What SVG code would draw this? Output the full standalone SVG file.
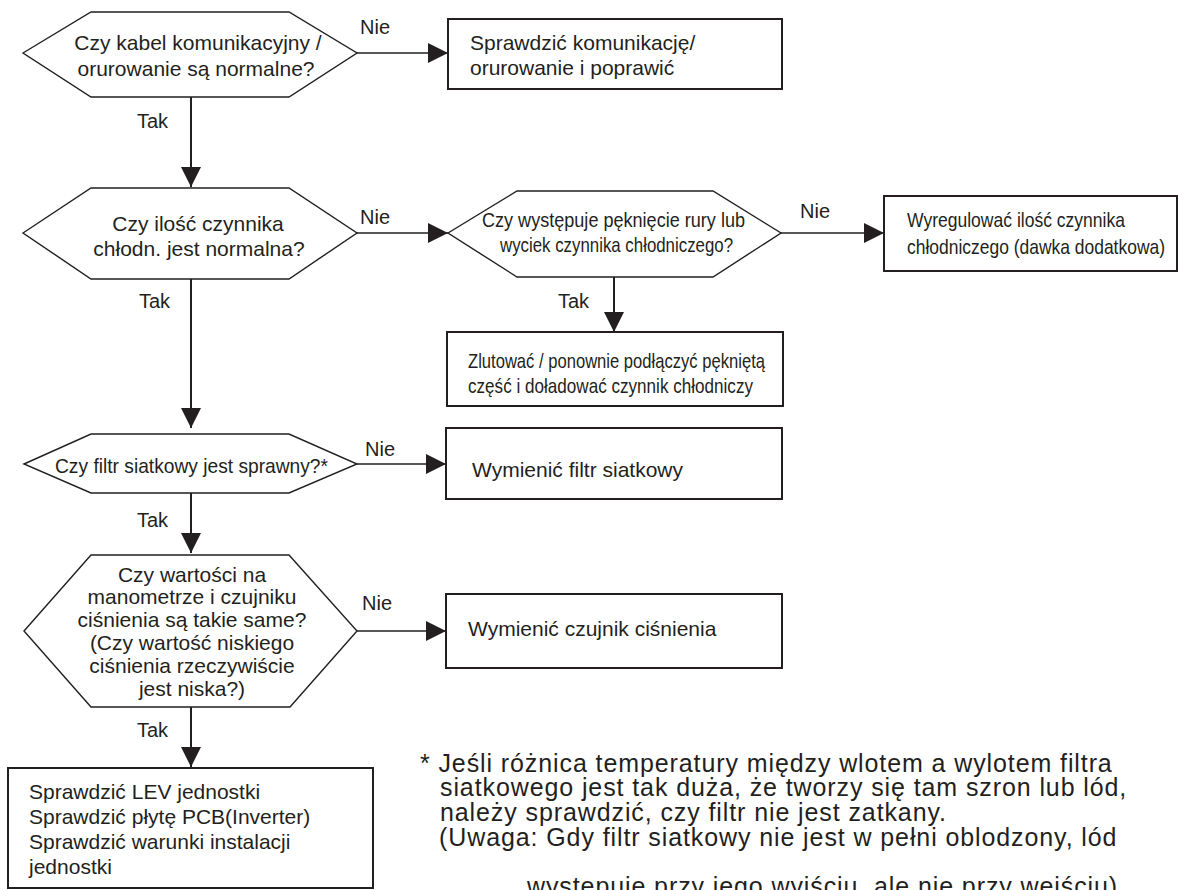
<svg xmlns="http://www.w3.org/2000/svg" width="1178" height="890" viewBox="0 0 1178 890">
  <style>
    .bg { fill: #ffffff; }
    .hex { fill: #ffffff; stroke: #231f20; stroke-width: 1.4; stroke-linejoin: miter; }
    .box { fill: #ffffff; stroke: #231f20; stroke-width: 2; }
    .wire { fill: none; stroke: #231f20; stroke-width: 1.3; }
    .wire.v { stroke-width: 2; }
    text { font-family: "Liberation Sans", Arial, sans-serif; fill: #231f20; }
    .t { font-size: 21px; }
    .mid { text-anchor: middle; }
    .lbl { font-size: 20px; }
    .note { font-size: 25px; letter-spacing: 0.9px; }
  </style>
  <defs>
    <marker id="arrow" markerUnits="userSpaceOnUse" viewBox="0 0 20 20" refX="20" refY="10" markerWidth="20" markerHeight="20" orient="auto">
      <path d="M0,0 L20,10 L0,20 Z" fill="#231f20"/>
    </marker>
  </defs>

  <rect class="bg" x="0" y="0" width="1178" height="890"/>

  <!-- connectors -->
  <g id="connectors">
    <line class="wire v" x1="191" y1="97" x2="191" y2="187" marker-end="url(#arrow)"/>
    <line class="wire" x1="357" y1="53" x2="448" y2="53" marker-end="url(#arrow)"/>
    <line class="wire v" x1="191" y1="279" x2="191" y2="428" marker-end="url(#arrow)"/>
    <line class="wire" x1="357" y1="233" x2="448" y2="233" marker-end="url(#arrow)"/>
    <line class="wire" x1="781" y1="233" x2="884" y2="233" marker-end="url(#arrow)"/>
    <line class="wire v" x1="614" y1="277" x2="614" y2="332" marker-end="url(#arrow)"/>
    <line class="wire v" x1="191" y1="493" x2="191" y2="553" marker-end="url(#arrow)"/>
    <line class="wire" x1="357" y1="464" x2="446" y2="464" marker-end="url(#arrow)"/>
    <line class="wire v" x1="191" y1="707" x2="191" y2="767" marker-end="url(#arrow)"/>
    <line class="wire" x1="357" y1="631" x2="446" y2="631" marker-end="url(#arrow)"/>

    <text class="lbl" x="360" y="34">Nie</text>
    <text class="lbl" x="137" y="128">Tak</text>
    <text class="lbl" x="360" y="224">Nie</text>
    <text class="lbl" x="139" y="308">Tak</text>
    <text class="lbl" x="800" y="218">Nie</text>
    <text class="lbl" x="558" y="308">Tak</text>
    <text class="lbl" x="365" y="456">Nie</text>
    <text class="lbl" x="137" y="527">Tak</text>
    <text class="lbl" x="362" y="610">Nie</text>
    <text class="lbl" x="137" y="737">Tak</text>
  </g>

  <!-- decision: cable / piping -->
  <g id="q-cable">
    <polygon class="hex" points="23,53 91,12 289,12 357,53 289,97 91,97"/>
    <text class="t mid" x="198" y="50">Czy kabel komunikacyjny /</text>
    <text class="t mid" x="196" y="76">orurowanie są normalne?</text>
  </g>

  <g id="fix-cable">
    <rect class="box" x="448" y="19" width="334" height="70"/>
    <text class="t" x="470" y="50">Sprawdzić komunikację/</text>
    <text class="t" x="470" y="75">orurowanie i poprawić</text>
  </g>

  <!-- decision: refrigerant amount -->
  <g id="q-refrigerant">
    <polygon class="hex" points="23,233 91,188 289,188 357,233 289,279 91,279"/>
    <text class="t mid" x="198" y="231">Czy ilość czynnika</text>
    <text class="t mid" x="199" y="256">chłodn. jest normalna?</text>
  </g>

  <!-- decision: leak -->
  <g id="q-leak">
    <polygon class="hex" points="448,233 517,191 713,191 781,233 713,277 517,277"/>
    <text class="t" x="482" y="227" textLength="263" lengthAdjust="spacingAndGlyphs">Czy występuje pęknięcie rury lub</text>
    <text class="t" x="500" y="252" textLength="233" lengthAdjust="spacingAndGlyphs">wyciek czynnika chłodniczego?</text>
  </g>

  <g id="adjust-charge">
    <rect class="box" x="884" y="196" width="293" height="75"/>
    <text class="t" x="907" y="227" textLength="218" lengthAdjust="spacingAndGlyphs">Wyregulować ilość czynnika</text>
    <text class="t" x="907" y="254" textLength="258" lengthAdjust="spacingAndGlyphs">chłodniczego (dawka dodatkowa)</text>
  </g>

  <g id="repair-leak">
    <rect class="box" x="447" y="332" width="336" height="74"/>
    <text class="t" x="468" y="368" textLength="297" lengthAdjust="spacingAndGlyphs">Zlutować / ponownie podłączyć pękniętą</text>
    <text class="t" x="468" y="393" textLength="285" lengthAdjust="spacingAndGlyphs">część i doładować czynnik chłodniczy</text>
  </g>

  <!-- decision: strainer -->
  <g id="q-strainer">
    <polygon class="hex" points="24,464 91,434 289,434 357,464 289,493 91,493"/>
    <text class="t" x="55" y="473" textLength="273" lengthAdjust="spacingAndGlyphs">Czy filtr siatkowy jest sprawny?*</text>
  </g>

  <g id="replace-strainer">
    <rect class="box" x="446" y="428" width="336" height="71"/>
    <text class="t" x="472" y="477">Wymienić filtr siatkowy</text>
  </g>

  <!-- decision: pressure sensor -->
  <g id="q-sensor">
    <polygon class="hex" points="24,631 91,555 289,555 357,631 290,707 91,707"/>
    <text class="t mid" x="192" y="581.5">Czy wartości na</text>
    <text class="t mid" x="192" y="604.3">manometrze i czujniku</text>
    <text class="t mid" x="192" y="627.1">ciśnienia są takie same?</text>
    <text class="t mid" x="192" y="649.9">(Czy wartość niskiego</text>
    <text class="t mid" x="192" y="672.7">ciśnienia rzeczywiście</text>
    <text class="t mid" x="192" y="695.5">jest niska?)</text>
  </g>

  <g id="replace-sensor">
    <rect class="box" x="446" y="594" width="336" height="74"/>
    <text class="t" x="468" y="636">Wymienić czujnik ciśnienia</text>
  </g>

  <g id="check-unit">
    <rect class="box" x="8" y="768" width="365" height="120"/>
    <text class="t" x="29" y="799">Sprawdzić LEV jednostki</text>
    <text class="t" x="29" y="824">Sprawdzić płytę PCB(Inverter)</text>
    <text class="t" x="29" y="849">Sprawdzić warunki instalacji</text>
    <text class="t" x="29" y="874">jednostki</text>
  </g>

  <!-- footnote -->
  <g id="footnote">
    <text class="note" x="420" y="772">* Jeśli różnica temperatury między wlotem a wylotem filtra</text>
    <text class="note" x="440" y="796">siatkowego jest tak duża, że tworzy się tam szron lub lód,</text>
    <text class="note" x="440" y="821">należy sprawdzić, czy filtr nie jest zatkany.</text>
    <text class="note" x="439" y="846">(Uwaga: Gdy filtr siatkowy nie jest w pełni oblodzony, lód</text>
    <text class="note" x="527" y="895">występuje przy jego wyjściu, ale nie przy wejściu)</text>
  </g>
</svg>
